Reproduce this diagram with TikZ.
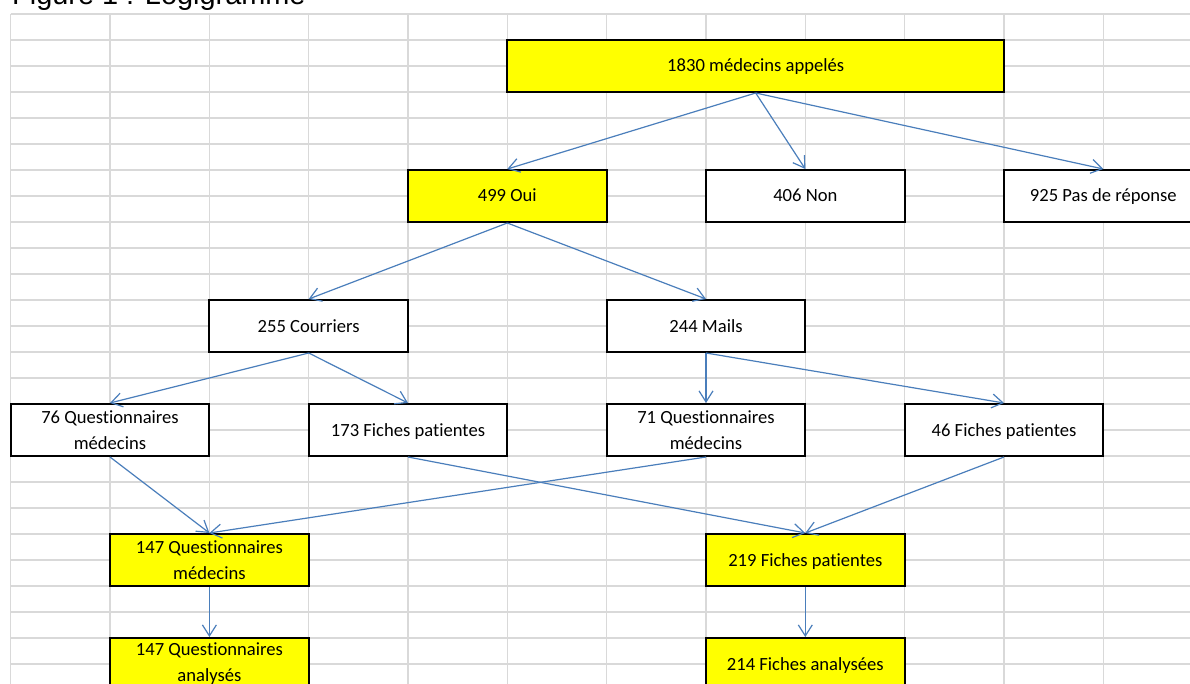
\documentclass[tikz,border=0pt]{standalone}
\usepackage{fontspec}
\setmainfont{Carlito}[Ligatures=NoCommon]
\newfontfamily\titlefont{Liberation Sans}
\usetikzlibrary{arrows.meta}

\definecolor{gridgray}{RGB}{217,217,217}
\definecolor{linkblue}{RGB}{74,126,187}
\definecolor{cellyellow}{RGB}{255,255,0}

\tikzset{
  box/.style={draw=black, fill=white, line width=2pt, minimum width=198.6pt, minimum height=52pt,
    inner sep=0pt, align=center, font=\fontsize{18.6}{26}\selectfont},
  kept/.style={box, fill=cellyellow},
  oneline/.style={text height=16pt, text depth=4pt},
  link/.style={draw=linkblue, line width=1.2pt, -{Straight Barb[length=11pt,width=14pt]}},
  gridline/.style={draw=gridgray, line width=1.3pt}
}

\begin{document}
\begin{tikzpicture}[x=1pt, y=-1pt]
\clip (0,0) rectangle (1190,684);
\fill[white] (0,0) rectangle (1190,684);

% spreadsheet cells
\foreach \i in {0,...,11}
  \draw[gridline] ({10.7+99.33*\i},14) -- ({10.7+99.33*\i},690);
\foreach \j in {0,...,26}
  \draw[gridline] (10.7,{14+26*\j}) -- (1190,{14+26*\j});

\node[anchor=base west, inner sep=0pt, font=\titlefont\fontsize{28.9}{34}\selectfont] (title) at (12,4.5) {Figure 1 : Logigramme};

% boxes
\node[kept, oneline, minimum width=496.7pt] (calls) at (755.7,66) {1830 médecins appelés};
\node[kept, oneline] (oui) at (507.3,196) {499 Oui};
\node[box, oneline] (non) at (805.3,196) {406 Non};
\node[box, oneline] (nrep) at (1103.3,196) {925 Pas de réponse};
\node[box, oneline] (courriers) at (308.7,326) {255 Courriers};
\node[box, oneline] (mails) at (706,326) {244 Mails};
\node[box] (qcour) at (110,430) {76 Questionnaires\\médecins};
\node[box, oneline] (fcour) at (408,430) {173 Fiches patientes};
\node[box] (qmail) at (706,430) {71 Questionnaires\\médecins};
\node[box, oneline] (fmail) at (1004,430) {46 Fiches patientes};
\node[kept] (qtot) at (209.4,560) {147 Questionnaires\\médecins};
\node[kept, oneline] (ftot) at (805.3,560) {219 Fiches patientes};
\node[kept] (qana) at (209.4,664) {147 Questionnaires\\analysés};
\node[kept, oneline] (fana) at (805.3,664) {214 Fiches analysées};

% connectors
\draw[link] (calls.south) -- (oui.north);
\draw[link] (calls.south) -- (non.north);
\draw[link] (calls.south) -- (nrep.north);
\draw[link] (oui.south) -- (courriers.north);
\draw[link] (oui.south) -- (mails.north);
\draw[link] (courriers.south) -- (qcour.north);
\draw[link] (courriers.south) -- (fcour.north);
\draw[link] (mails.south) -- (qmail.north);
\draw[link] (mails.south) -- (fmail.north);
\draw[link] (qcour.south) -- (qtot.north);
\draw[link] (qmail.south) -- (qtot.north);
\draw[link] (fcour.south) -- (ftot.north);
\draw[link] (fmail.south) -- (ftot.north);
\draw[link] (qtot.south) -- (qana.north);
\draw[link] (ftot.south) -- (fana.north);
\end{tikzpicture}
\end{document}
